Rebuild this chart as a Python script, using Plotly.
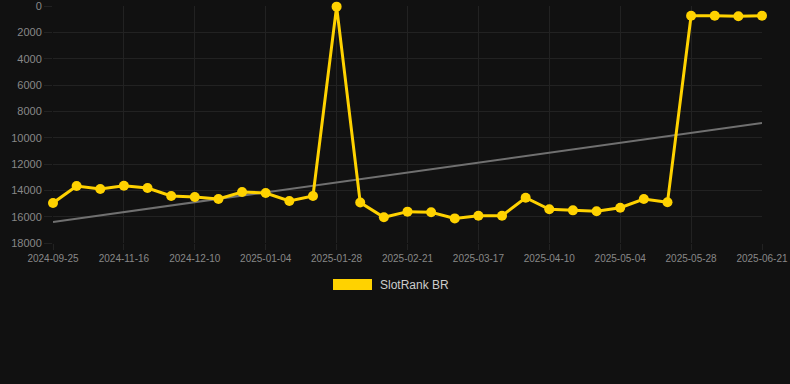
import plotly.graph_objects as go

dates = [
    "2024-09-25", "2024-10-12", "2024-11-08", "2024-11-16", "2024-11-24", "2024-12-02",
    "2024-12-10", "2024-12-18", "2024-12-27", "2025-01-04", "2025-01-12", "2025-01-20",
    "2025-01-28", "2025-02-05", "2025-02-13", "2025-02-21", "2025-03-01", "2025-03-09",
    "2025-03-17", "2025-03-25", "2025-04-02", "2025-04-10", "2025-04-18", "2025-04-26",
    "2025-05-04", "2025-05-12", "2025-05-20", "2025-05-28", "2025-06-05", "2025-06-13",
    "2025-06-21",
]
rank = [
    14960, 13670, 13900, 13650, 13820, 14430,
    14500, 14660, 14130, 14200, 14810, 14430,
    50, 14930, 16050, 15620, 15670, 16130,
    15930, 15930, 14560, 15440, 15520, 15590,
    15320, 14660, 14910, 740, 740, 780,
    740,
]
trend_x = [dates[0], dates[-1]]
trend_y = [16400, 8890]
tick_labels = dates[::3]
y_ticks = list(range(0, 18001, 2000))
series_name = "SlotRank BR"

BG = "#111111"
GOLD = "#FFD200"

fig = go.Figure()
fig.add_trace(go.Scatter(
    x=trend_x, y=trend_y, mode="lines",
    line=dict(color="#707070", width=2),
    hoverinfo="skip", showlegend=False,
))
fig.add_trace(go.Scatter(
    x=dates, y=rank, mode="lines+markers", name=series_name,
    line=dict(color=GOLD, width=3),
    marker=dict(color=GOLD, size=10),
    cliponaxis=False, showlegend=False,
))

fig.update_layout(
    width=790, height=384,
    paper_bgcolor=BG, plot_bgcolor=BG,
    margin=dict(l=53, r=28, t=6, b=141),
    font=dict(family="Liberation Sans, Arial, sans-serif", color="#888888"),
    xaxis=dict(
        type="category", categoryorder="array", categoryarray=dates,
        range=[0, len(dates) - 1],
        tickvals=tick_labels, ticktext=tick_labels,
        showgrid=True, gridcolor="#222222", gridwidth=1,
        zeroline=False, showline=False,
        ticks="outside", ticklen=6, tickcolor="#222222",
        tickfont=dict(size=10, color="#888888"),
        tickangle=0, automargin=False, ticklabeloverflow="allow",
    ),
    yaxis=dict(
        range=[18000, -0.5],
        tickvals=y_ticks, ticktext=[str(v) for v in y_ticks],
        showgrid=True, gridcolor="#222222", gridwidth=1,
        zeroline=False, showline=False,
        ticks="outside", ticklen=8, tickcolor="#222222",
        tickfont=dict(size=11, color="#888888"),
        automargin=False, ticklabeloverflow="allow",
    ),
    shapes=[dict(
        type="rect", xref="paper", yref="paper",
        x0=(333 - 53) / 709, x1=(372 - 53) / 709,
        y0=(243 - 290) / 237, y1=(243 - 279) / 237,
        fillcolor=GOLD, line=dict(width=0),
    )],
    annotations=[dict(
        xref="paper", yref="paper",
        x=(378 - 53) / 709, y=(243 - 284.5) / 237,
        xanchor="left", yanchor="middle",
        text=series_name, showarrow=False,
        font=dict(size=12, color="#cccccc"),
    )],
)

fig.write_html(
    "out.html",
    config={"displayModeBar": False},
    post_script="document.body.style.margin='0';document.body.style.background='#111111';",
)
